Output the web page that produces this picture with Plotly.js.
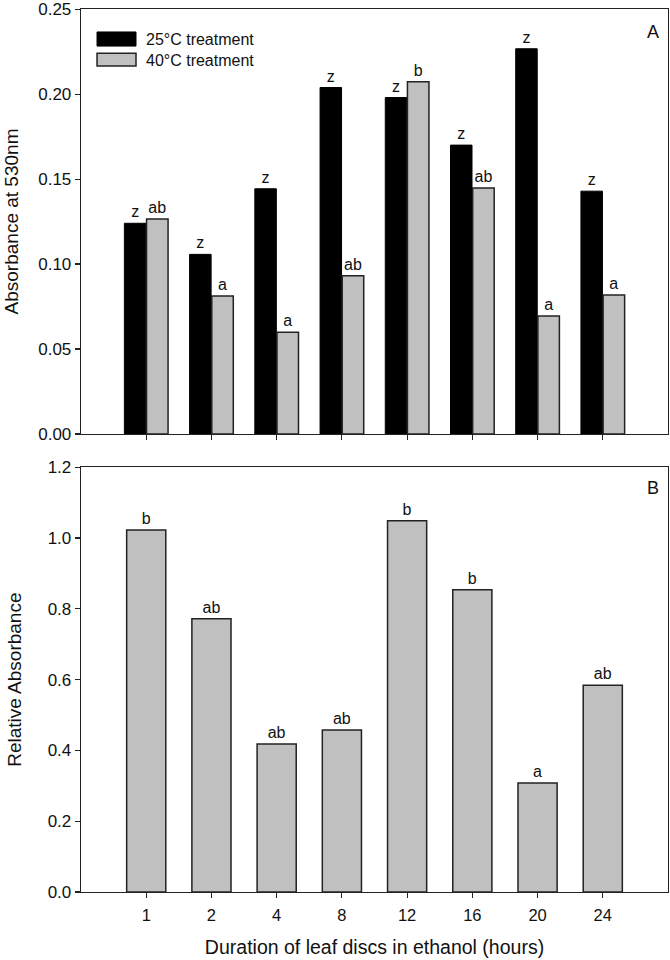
<!DOCTYPE html>
<html>
<head>
<meta charset="utf-8">
<script src="https://cdn.plot.ly/plotly-3.0.1.min.js"></script>
<style>html,body{margin:0;padding:0;background:#fff;}#chart{width:670px;height:960px;}</style>
</head>
<body>
<div id="chart"></div>
<script>
const hours = ["1", "2", "4", "8", "12", "16", "20", "24"];
const abs25 = [0.124, 0.1057, 0.1443, 0.2039, 0.198, 0.170, 0.2267, 0.1429];
const abs40 = [0.1265, 0.0812, 0.0598, 0.0931, 0.2073, 0.1447, 0.0694, 0.0818];
const letters25 = ["z", "z", "z", "z", "z", "z", "z", "z"];
const letters40 = ["ab", "a", "a", "ab", "b", "ab", "a", "a"];
const relAbs = [1.023, 0.772, 0.418, 0.458, 1.049, 0.854, 0.308, 0.584];
const lettersRel = ["b", "ab", "ab", "ab", "b", "b", "a", "ab"];
const seriesNames = ["25°C treatment", "40°C treatment"];
const ticksA = [0, 0.05, 0.10, 0.15, 0.20, 0.25];
const ticksB = [0, 0.2, 0.4, 0.6, 0.8, 1.0, 1.2];

const FONT = "Liberation Sans, Arial, sans-serif";
const INK = "#111";
const GREY = "#c0c0c0";
const LINE = "#222";

const traces = [
  {type: "bar", x: hours, y: abs25, name: seriesNames[0], xaxis: "x", yaxis: "y",
   marker: {color: "#000", line: {color: "#000", width: 1}},
   text: letters25, textposition: "outside", cliponaxis: false, constraintext: "none",
   textfont: {family: FONT, size: 16, color: INK}, showlegend: false, hoverinfo: "skip"},
  {type: "bar", x: hours, y: abs40, name: seriesNames[1], xaxis: "x", yaxis: "y",
   marker: {color: GREY, line: {color: LINE, width: 1.5}},
   text: letters40, textposition: "outside", cliponaxis: false, constraintext: "none",
   textfont: {family: FONT, size: 16, color: INK}, showlegend: false, hoverinfo: "skip"},
  {type: "bar", x: hours, y: relAbs, xaxis: "x2", yaxis: "y2", width: 0.6,
   marker: {color: GREY, line: {color: LINE, width: 1.5}},
   text: lettersRel, textposition: "outside", cliponaxis: false, constraintext: "none",
   textfont: {family: FONT, size: 16, color: INK}, showlegend: false, hoverinfo: "skip"}
];

const axisCommon = {
  showline: true, linecolor: LINE, linewidth: 1.3, mirror: true,
  ticks: "outside", ticklen: 5, tickwidth: 1.2, tickcolor: LINE,
  showgrid: false, zeroline: false, ticklabeloverflow: "allow",
  tickfont: {family: FONT, size: 17, color: INK}
};

const layout = {
  width: 670, height: 960,
  margin: {l: 81, r: 2, t: 9, b: 68},
  paper_bgcolor: "#fff", plot_bgcolor: "#fff",
  font: {family: FONT, color: INK},
  barmode: "group", bargap: 0.32, bargroupgap: 0.03,
  showlegend: false,
  xaxis: Object.assign({}, axisCommon, {
    type: "category", range: [-1, 8], domain: [0, 1], anchor: "y",
    showticklabels: false
  }),
  yaxis: Object.assign({}, axisCommon, {
    range: [0, 0.2501], tickmode: "array", tickvals: ticksA, tickformat: ".2f",
    domain: [0.5187, 1], anchor: "x",
    title: {text: "Absorbance at 530nm", font: {family: FONT, size: 19, color: INK}, standoff: 14}
  }),
  xaxis2: Object.assign({}, axisCommon, {
    type: "category", range: [-1, 8], domain: [0, 1], anchor: "y2",
    tickfont: {family: FONT, size: 16.5, color: INK}, ticklabelstandoff: 3,
    title: {text: "Duration of leaf discs in ethanol (hours)", font: {family: FONT, size: 19.5, color: INK}, standoff: 17}
  }),
  yaxis2: Object.assign({}, axisCommon, {
    range: [0, 1.2], tickmode: "array", tickvals: ticksB, tickformat: ".1f",
    domain: [0, 0.481], anchor: "x2",
    title: {text: "Relative Absorbance", font: {family: FONT, size: 19, color: INK}, standoff: 21}
  }),
  shapes: [
    {type: "rect", xref: "paper", yref: "paper", x0: 0.0273, x1: 0.0937, y0: 0.958, y1: 0.974,
     fillcolor: "#000", line: {color: "#000", width: 1}},
    {type: "rect", xref: "paper", yref: "paper", x0: 0.0273, x1: 0.0937, y0: 0.9355, y1: 0.950,
     fillcolor: GREY, line: {color: LINE, width: 1.5}}
  ],
  annotations: [
    {xref: "paper", yref: "paper", x: 0.1073, y: 0.966, xanchor: "left", yanchor: "middle",
     text: seriesNames[0], showarrow: false, font: {family: FONT, size: 16, color: INK}},
    {xref: "paper", yref: "paper", x: 0.1073, y: 0.9422, xanchor: "left", yanchor: "middle",
     text: seriesNames[1], showarrow: false, font: {family: FONT, size: 16, color: INK}},
    {xref: "paper", yref: "paper", x: 0.974, y: 0.974, xanchor: "center", yanchor: "middle",
     text: "A", showarrow: false, font: {family: FONT, size: 18, color: INK}},
    {xref: "paper", yref: "paper", x: 0.974, y: 0.4575, xanchor: "center", yanchor: "middle",
     text: "B", showarrow: false, font: {family: FONT, size: 18, color: INK}}
  ]
};

Plotly.newPlot("chart", traces, layout, {staticPlot: true, displayModeBar: false});
</script>
</body>
</html>
